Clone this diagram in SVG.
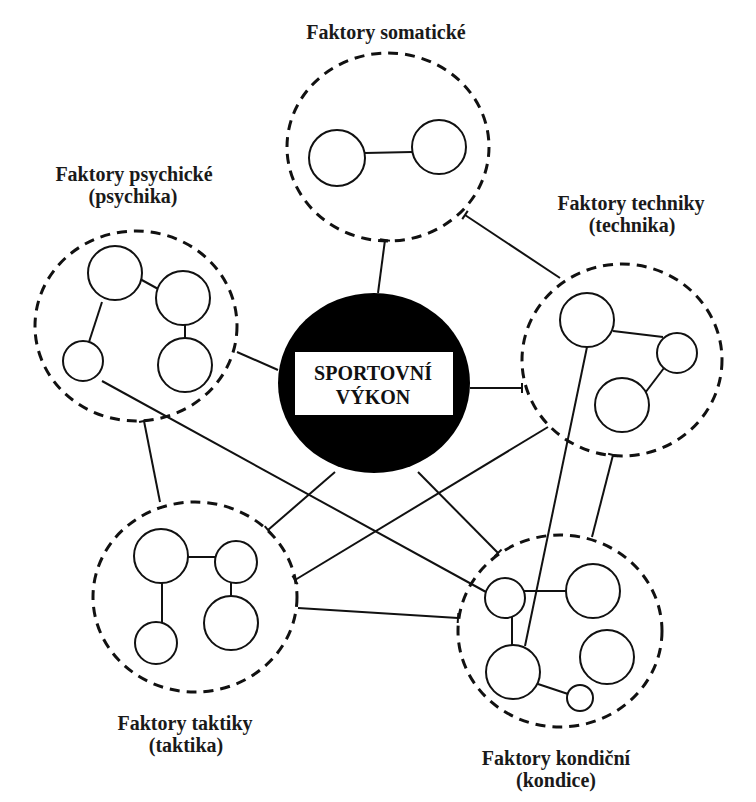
<svg xmlns="http://www.w3.org/2000/svg" width="756" height="802" viewBox="0 0 756 802">
  <style>
    .group { fill: none; stroke: #111; stroke-width: 3; stroke-dasharray: 10 7; }
    .item { fill: #fff; stroke: #111; stroke-width: 2; }
    .link { fill: none; stroke: #111; stroke-width: 2; }
    text { font-family: 'Liberation Serif', 'Times New Roman', serif; font-weight: bold; text-anchor: middle; }
    .label { font-size: 20px; fill: #1a1a1a; }
    .core { font-size: 20px; fill: #111; }
  </style>
  <defs>
    <!-- short perpendicular bar where a connector meets a factor group -->
    <marker id="tee" markerUnits="userSpaceOnUse" markerWidth="12" markerHeight="12" refX="6" refY="6" orient="auto">
      <path d="M6,1 L6,11" stroke="#111" stroke-width="2" fill="none"/>
    </marker>
  </defs>
  <rect width="756" height="802" fill="#fff"/>

  <!-- connectors -->
  <g id="connectors">
    <line class="link" x1="378" y1="293" x2="385" y2="240" marker-end="url(#tee)"/>
    <line class="link" x1="560" y1="278" x2="465" y2="215" marker-end="url(#tee)"/>
    <line class="link" x1="278" y1="370" x2="237" y2="352"/>
    <line class="link" x1="470" y1="388" x2="522" y2="388" marker-end="url(#tee)"/>
    <line class="link" x1="160" y1="502" x2="144" y2="421" marker-end="url(#tee)"/>
    <line class="link" x1="335" y1="472" x2="268" y2="530" marker-end="url(#tee)"/>
    <line class="link" x1="418" y1="472" x2="498" y2="553" marker-end="url(#tee)"/>
    <line class="link" x1="548" y1="427" x2="295" y2="580" marker-end="url(#tee)"/>
    <line class="link" x1="298" y1="608" x2="458" y2="618" marker-end="url(#tee)"/>
    <line class="link" x1="592" y1="537" x2="613" y2="455" marker-end="url(#tee)"/>
    <line class="link" x1="102" y1="381" x2="486" y2="592"/>
    <line class="link" x1="587" y1="347" x2="525" y2="646"/>
  </g>

  <!-- central node -->
  <g id="sportovni-vykon">
    <ellipse cx="374" cy="383" rx="96" ry="90" fill="#000"/>
    <rect x="295" y="352" width="158" height="63" fill="#fff"/>
    <text class="core" x="373" y="380">SPORTOVNÍ</text>
    <text class="core" x="373" y="404">VÝKON</text>
  </g>

  <!-- somatic factors -->
  <g id="faktory-somaticke">
    <ellipse class="group" cx="388" cy="147" rx="101" ry="94"/>
    <line class="link" x1="365" y1="153" x2="412" y2="152"/>
    <circle class="item" cx="337" cy="158" r="28"/>
    <circle class="item" cx="439" cy="147" r="27"/>
    <text class="label" x="386" y="39">Faktory somatické</text>
  </g>

  <!-- psychic factors -->
  <g id="faktory-psychicke">
    <ellipse class="group" cx="136" cy="326" rx="101" ry="95"/>
    <line class="link" x1="140" y1="279" x2="160" y2="290"/>
    <line class="link" x1="102" y1="302" x2="89" y2="342"/>
    <line class="link" x1="185" y1="324" x2="185" y2="340"/>
    <circle class="item" cx="115" cy="273" r="27"/>
    <circle class="item" cx="183" cy="298" r="27"/>
    <circle class="item" cx="185" cy="365" r="27"/>
    <circle class="item" cx="83" cy="361" r="20"/>
    <text class="label" x="134" y="181">Faktory psychické</text>
    <text class="label" x="133" y="203">(psychika)</text>
  </g>

  <!-- technique factors -->
  <g id="faktory-techniky">
    <ellipse class="group" cx="622" cy="360" rx="100" ry="96"/>
    <line class="link" x1="613" y1="331" x2="663" y2="337"/>
    <line class="link" x1="664" y1="368" x2="645" y2="393"/>
    <circle class="item" cx="587" cy="320" r="27"/>
    <circle class="item" cx="677" cy="353" r="20"/>
    <circle class="item" cx="622" cy="405" r="27"/>
    <text class="label" x="631" y="210">Faktory techniky</text>
    <text class="label" x="632" y="232">(technika)</text>
  </g>

  <!-- tactical factors -->
  <g id="faktory-taktiky">
    <ellipse class="group" cx="195" cy="597" rx="102" ry="95"/>
    <line class="link" x1="186" y1="557" x2="216" y2="557"/>
    <line class="link" x1="162" y1="582" x2="162" y2="623"/>
    <line class="link" x1="231" y1="582" x2="231" y2="597"/>
    <circle class="item" cx="161" cy="556" r="27"/>
    <circle class="item" cx="236" cy="562" r="21"/>
    <circle class="item" cx="231" cy="623" r="27"/>
    <circle class="item" cx="156" cy="643" r="21"/>
    <text class="label" x="185" y="730">Faktory taktiky</text>
    <text class="label" x="186" y="752">(taktika)</text>
  </g>

  <!-- conditioning factors -->
  <g id="faktory-kondicni">
    <ellipse class="group" cx="560" cy="631" rx="102" ry="96"/>
    <line class="link" x1="524" y1="591" x2="567" y2="591"/>
    <line class="link" x1="512" y1="617" x2="512" y2="646"/>
    <line class="link" x1="538" y1="684" x2="568" y2="694"/>
    <circle class="item" cx="505" cy="598" r="20"/>
    <circle class="item" cx="593" cy="591" r="27"/>
    <circle class="item" cx="607" cy="657" r="27"/>
    <circle class="item" cx="513" cy="672" r="27"/>
    <circle class="item" cx="580" cy="698" r="13"/>
    <text class="label" x="556" y="765">Faktory kondiční</text>
    <text class="label" x="556" y="787">(kondice)</text>
  </g>
</svg>
